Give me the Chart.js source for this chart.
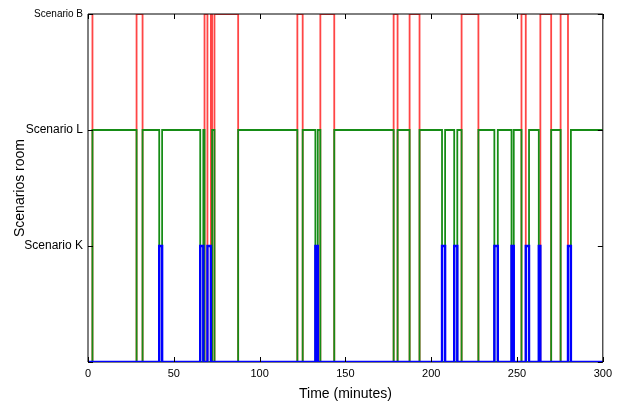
<!DOCTYPE html>
<html><head><meta charset="utf-8">
<script src="https://cdn.jsdelivr.net/npm/chart.js@4/dist/chart.umd.min.js"></script>
<style>html,body{margin:0;padding:0;background:#fff}</style>
</head><body>
<canvas id="c" width="617" height="405"></canvas>
<script>
// Time (minutes) at which the room switches scenario, and the scenario it switches to
const changeTimes = [0, 2.6, 28.3, 31.8, 41.5, 43.2, 65.4, 67.2, 67.9, 69.6, 71.6, 72.3, 73.7, 87.5,
  122.0, 125.1, 132.5, 133.9, 135.4, 143.5, 178.1, 180.4, 187.4, 193.2, 206.3, 208.1, 213.4, 215.2,
  217.7, 227.5, 236.8, 238.8, 246.8, 248.1, 252.6, 255.1, 257.0, 262.7, 263.6, 269.9, 275.4, 279.7, 281.4];
const roomStates = ['B','L','B','L','K','L','K','L','B','K','B','L','B','L',
  'B','L','K','L','B','L','B','L','B','L','K','L','K','L',
  'B','L','K','L','K','L','B','K','L','K','B','L','B','K','L'];
const endTime = 300;
const yTickLabels = ['', 'Scenario K', 'Scenario L', 'Scenario B'];
const scenarioLevels = {K: 1, L: 2, B: 3};
const xTicks = [0, 50, 100, 150, 200, 250, 300];

function seriesFor(code) {
  const pts = changeTimes.map((t, i) => ({x: t, y: roomStates[i] === code ? scenarioLevels[code] : 0}));
  pts.push({x: endTime, y: pts[pts.length - 1].y});
  return pts;
}

const frame = {
  id: 'frame',
  beforeDatasetsDraw(chart) {
    const {ctx, chartArea: a} = chart;
    ctx.save();
    ctx.strokeStyle = '#000'; ctx.lineWidth = 1;
    ctx.beginPath();
    ctx.moveTo(a.left, a.bottom); ctx.lineTo(a.right, a.bottom);
    ctx.stroke();
    ctx.restore();
  },
  afterDatasetsDraw(chart) {
    const {ctx, chartArea: a, scales} = chart;
    ctx.save();
    ctx.strokeStyle = '#000'; ctx.lineWidth = 1;
    ctx.beginPath();
    ctx.moveTo(a.left, a.bottom); ctx.lineTo(a.left, a.top); ctx.lineTo(a.right, a.top); ctx.lineTo(a.right, a.bottom);
    const tl = 5;
    scales.x.ticks.forEach(t => {
      const px = Math.round(scales.x.getPixelForValue(t.value)) + 0.5;
      ctx.moveTo(px, a.bottom); ctx.lineTo(px, a.bottom - tl);
      ctx.moveTo(px, a.top); ctx.lineTo(px, a.top + tl);
    });
    scales.y.ticks.forEach(t => {
      const py = Math.round(scales.y.getPixelForValue(t.value)) + 0.5;
      ctx.moveTo(a.left, py); ctx.lineTo(a.left + tl, py);
      ctx.moveTo(a.right, py); ctx.lineTo(a.right - tl, py);
    });
    ctx.stroke();
    ctx.restore();
  }
};

new Chart(document.getElementById('c'), {
  type: 'line',
  data: {
    datasets: [
      {label: 'Scenario K', data: seriesFor('K'), borderColor: '#0000ff', borderWidth: 2.4},
      {label: 'Scenario L', data: seriesFor('L'), borderColor: '#168c16', borderWidth: 1.8},
      {label: 'Scenario B', data: seriesFor('B'), borderColor: '#ff4545', borderWidth: 1.8}
    ]
  },
  options: {
    responsive: false,
    animation: false,
    devicePixelRatio: 1,
    elements: {line: {stepped: 'before', tension: 0, fill: false}, point: {radius: 0}},
    layout: {padding: {left: 0, top: 14, right: 11, bottom: 0}},
    plugins: {legend: {display: false}, tooltip: {enabled: false}},
    scales: {
      x: {
        type: 'linear', min: 0, max: 300,
        afterBuildTicks: s => { s.ticks = xTicks.map(v => ({value: v})); },
        grid: {display: false, drawTicks: false},
        border: {display: false},
        ticks: {padding: 5, color: '#000', font: {family: 'Liberation Sans', size: 11}, maxRotation: 0},
        title: {display: true, text: 'Time (minutes)', color: '#000', font: {family: 'Liberation Sans', size: 14}, padding: {top: 0, bottom: 2}},
        afterFit: s => { s.height = 43; }
      },
      y: {
        min: 0, max: 3,
        afterBuildTicks: s => { s.ticks = yTickLabels.map((l, i) => ({value: i})); },
        grid: {display: false, drawTicks: false},
        border: {display: false},
        ticks: {
          padding: 5, color: '#000',
          callback: v => yTickLabels[v],
          font: c => ({family: 'Liberation Sans', size: (c.tick && c.tick.value === 3) ? 10 : 12})
        },
        title: {display: true, text: 'Scenarios room', color: '#000', font: {family: 'Liberation Sans', size: 14}, padding: {top: 12, bottom: 0}},
        afterFit: s => { s.width = 88; }
      }
    }
  },
  plugins: [frame]
});
</script>
</body></html>
